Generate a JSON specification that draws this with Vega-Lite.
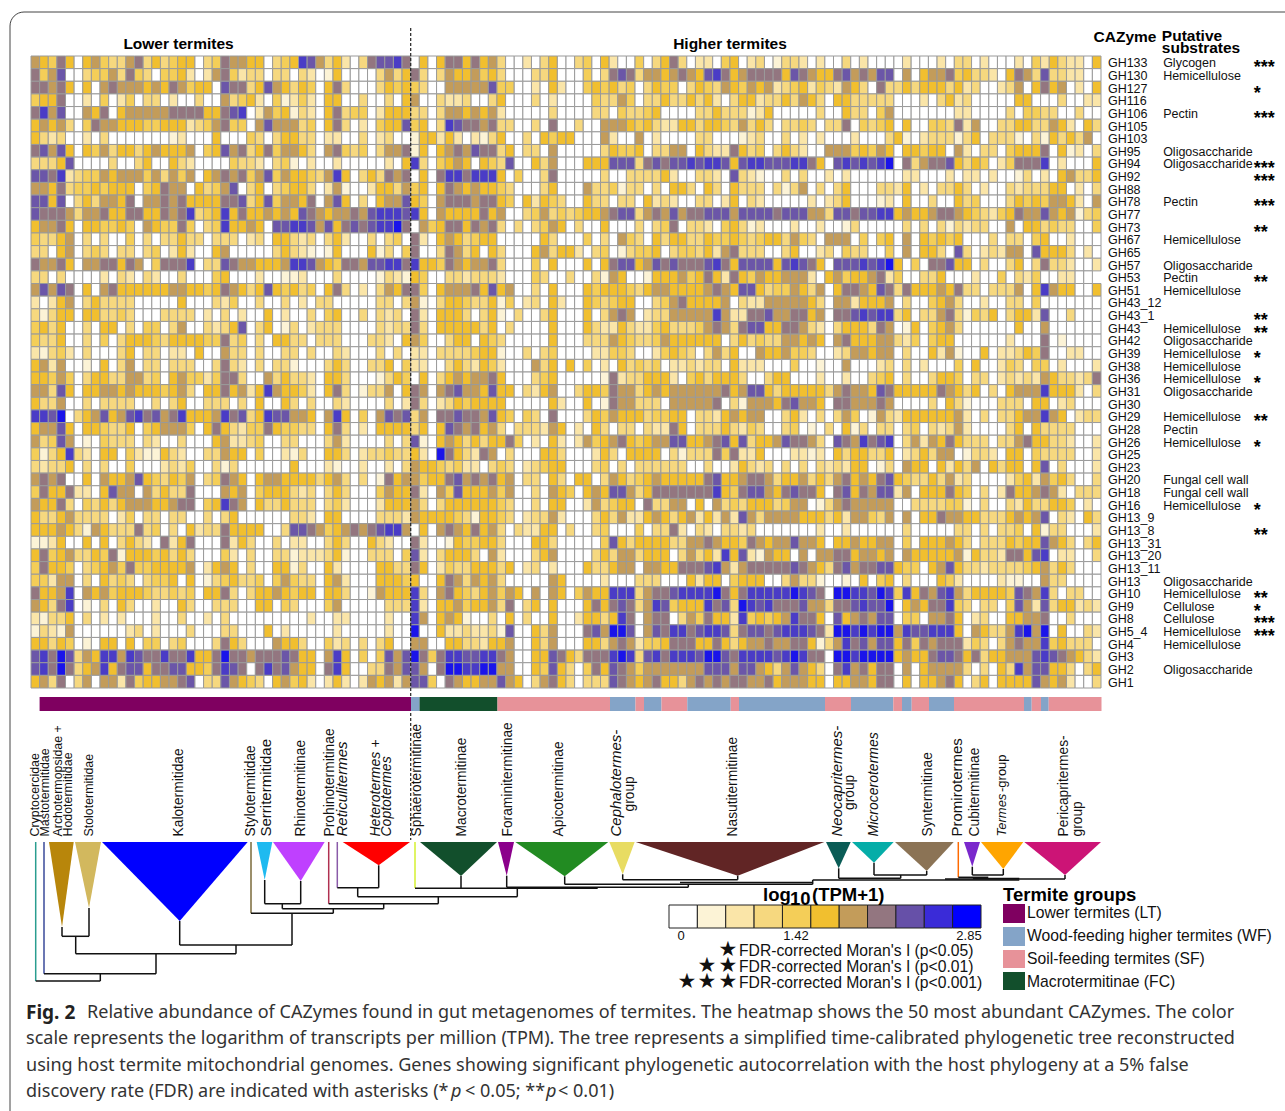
{"$schema":"https://vega.github.io/schema/vega-lite/v6.json","width":1285,"height":1111,"padding":0,"autosize":{"type":"none"},"background":"white","config":{"view":{"stroke":null},"text":{"font":"Liberation Sans"}},
"datasets":{"cazy":[
{"row":0,"gene":"GH133","sub":"Glycogen","sig":"***","v":[6,5,4,7,5,0,5,6,4,3,3,6,7,3,5,3,4,5,5,0,3,4,7,6,6,5,5,0,3,4,5,9,8,6,3,5,2,0,3,7,8,8,9,7,0,5,0,5,7,7,5,7,5,6,3,0,0,2,0,3,5,0,0,3,4,0,5,2,0,0,4,0,3,5,7,3,0,2,2,0,4,5,0,2,3,0,1,3,3,2,0,2,0,0,3,0,2,0,0,0,0,2,0,0,0,2,0,3,3,0,2,0,0,0,2,0,4,2,5,3,2,2,0,5]},
{"row":1,"gene":"GH130","sub":"Hemicellulose","sig":"","v":[7,4,6,8,0,0,3,4,4,6,3,7,4,3,0,4,4,5,2,0,2,6,7,4,2,3,3,0,3,3,0,3,2,0,1,5,0,0,0,0,3,6,3,5,7,3,0,3,6,5,5,6,4,5,3,0,0,0,3,3,5,0,0,0,4,0,3,7,8,7,3,6,6,5,6,7,6,5,8,9,7,5,6,7,7,7,7,5,8,7,6,5,5,7,8,6,7,6,8,8,0,6,0,5,6,6,7,4,5,3,3,2,0,5,7,6,3,8,3,3,2,2,0,0]},
{"row":2,"gene":"GH127","sub":"","sig":"*","v":[7,7,6,7,5,0,5,0,6,7,6,6,6,5,6,5,7,6,4,5,5,0,8,7,7,3,5,8,6,5,3,5,4,0,5,7,3,0,0,0,3,5,4,5,4,3,0,0,6,6,6,6,6,8,4,4,0,0,2,0,5,2,0,0,4,5,4,5,3,4,0,3,5,4,4,0,3,5,4,3,6,5,4,6,5,6,2,3,4,5,2,4,3,2,6,5,3,0,7,3,3,5,3,5,5,5,3,5,2,3,0,0,2,3,6,0,5,7,5,6,0,2,0,5]},
{"row":3,"gene":"GH116","sub":"","sig":"","v":[4,5,5,7,0,0,2,0,4,0,2,4,0,3,3,0,2,0,0,3,0,0,6,3,4,5,2,0,4,1,2,4,2,0,5,5,0,0,3,0,0,3,0,5,6,0,0,3,2,2,3,0,0,3,5,0,0,0,3,0,2,0,0,0,0,4,3,3,6,4,0,3,3,5,3,3,5,3,5,2,0,3,5,5,2,3,3,5,3,6,5,3,0,5,5,3,3,3,3,3,0,0,0,2,0,3,5,2,3,0,0,0,0,0,5,5,0,0,0,3,0,0,2,2]},
{"row":4,"gene":"GH106","sub":"Pectin","sig":"***","v":[7,9,6,8,0,0,6,5,7,0,5,6,6,6,6,6,7,7,7,7,5,5,7,8,9,0,2,6,4,5,1,3,2,0,5,7,3,4,4,0,2,5,5,5,3,3,0,3,6,6,5,6,5,6,2,0,0,0,0,0,3,0,0,0,0,3,3,0,4,3,3,4,5,0,0,0,0,3,3,5,3,3,3,1,2,5,0,0,0,0,0,3,0,0,5,3,3,0,4,6,0,0,0,0,0,0,0,2,2,0,0,0,0,3,0,4,4,3,3,0,0,3,0,0]},
{"row":5,"gene":"GH105","sub":"","sig":"","v":[5,6,5,6,3,0,4,7,6,6,5,5,5,4,4,5,5,5,2,3,4,6,7,4,4,0,6,8,6,6,6,3,4,0,5,7,3,0,2,0,4,5,5,8,4,5,0,3,9,8,7,7,6,7,3,3,0,0,3,0,7,0,0,3,0,0,6,6,6,5,4,5,3,2,2,5,5,3,5,5,4,3,6,3,5,3,0,3,3,4,3,0,3,3,7,0,4,3,4,5,0,5,0,0,4,4,3,7,2,6,0,0,3,3,5,5,3,3,6,5,2,0,5,3]},
{"row":6,"gene":"GH103","sub":"","sig":"","v":[5,3,2,3,0,0,2,0,3,0,0,0,0,0,0,0,1,2,0,0,0,5,0,0,0,4,3,0,3,5,5,3,3,0,2,2,0,0,3,0,2,3,0,0,1,5,5,2,5,2,0,2,1,3,5,0,0,3,0,5,4,5,5,0,0,0,6,2,0,0,6,0,2,0,0,0,0,3,3,0,0,0,1,2,3,0,0,3,0,2,0,2,0,0,0,2,0,0,0,3,5,1,0,2,3,3,3,1,3,5,0,3,3,3,1,0,3,1,5,3,5,3,6,0]},
{"row":7,"gene":"GH95","sub":"Oligosaccharide","sig":"","v":[7,8,6,8,5,0,5,4,6,3,5,5,3,5,6,5,5,5,6,0,4,5,8,6,7,3,5,7,4,6,6,5,3,0,6,7,4,3,4,0,3,6,6,7,1,5,0,5,6,7,6,8,7,7,3,5,0,3,3,0,6,0,0,0,0,0,3,5,4,4,5,0,3,3,6,6,0,5,3,2,2,7,5,3,4,0,3,5,3,2,0,0,6,6,6,4,5,4,6,5,0,5,5,4,5,5,0,6,2,0,3,3,0,4,5,5,5,7,0,5,1,2,0,3]},
{"row":8,"gene":"GH94","sub":"Oligosaccharide","sig":"***","v":[3,3,3,5,8,0,0,0,0,3,0,0,3,5,0,0,5,3,2,0,0,0,0,4,3,3,2,0,3,4,1,0,2,0,0,2,0,0,0,0,0,2,0,5,9,3,0,4,5,6,5,0,5,4,3,8,0,0,5,3,6,0,0,0,5,5,5,8,8,8,3,7,8,7,8,8,9,8,9,9,8,5,8,9,9,8,8,8,9,9,7,5,0,8,9,8,9,8,9,10,0,7,3,6,7,7,8,5,3,5,4,0,2,4,7,7,7,9,0,2,0,0,0,5]},
{"row":9,"gene":"GH92","sub":"","sig":"***","v":[8,8,7,9,2,3,4,4,6,5,6,6,6,4,6,3,6,4,6,0,5,6,7,6,7,4,6,8,4,6,5,5,4,3,6,9,5,0,3,5,3,7,6,7,0,5,0,7,9,9,7,9,9,9,5,0,4,0,0,3,7,0,0,0,0,0,3,0,0,3,3,3,3,5,2,0,0,3,3,2,0,8,3,2,1,0,0,3,0,3,0,0,2,0,2,0,0,0,0,0,0,2,2,0,0,0,2,0,2,2,0,2,0,0,1,3,0,2,0,5,6,3,3,5]},
{"row":10,"gene":"GH88","sub":"","sig":"","v":[6,6,5,7,3,4,4,5,4,5,5,5,0,4,5,7,6,6,0,5,3,4,6,8,0,3,5,0,3,4,5,5,3,0,2,6,1,0,0,2,5,5,3,6,4,5,0,5,7,6,5,6,5,5,4,3,0,0,0,3,5,0,0,0,6,3,3,4,1,3,3,0,3,0,5,5,3,0,5,3,0,5,3,3,3,0,3,1,3,6,0,3,0,3,5,0,0,0,3,3,2,5,0,2,0,3,3,5,3,0,2,0,0,3,2,3,3,3,5,5,0,2,0,3]},
{"row":11,"gene":"GH78","sub":"Pectin","sig":"***","v":[8,8,5,8,0,3,5,3,6,6,5,7,0,6,6,7,6,7,5,5,5,5,7,7,8,3,5,8,4,6,6,5,7,0,6,8,5,0,3,0,5,6,6,8,5,4,0,6,7,7,7,6,7,7,5,4,0,5,2,5,4,3,0,0,5,3,3,0,3,3,0,5,2,3,2,0,0,3,3,0,2,5,0,3,2,0,0,0,0,0,2,0,2,3,5,0,0,0,1,2,0,5,0,0,3,0,0,5,3,4,0,0,0,3,5,4,5,4,6,6,5,2,0,6]},
{"row":12,"gene":"GH77","sub":"","sig":"","v":[8,7,7,7,6,3,6,6,7,5,5,7,7,5,5,7,6,7,9,3,4,5,9,5,7,5,5,6,5,6,5,8,7,6,5,6,6,7,6,8,9,9,9,8,9,5,0,6,5,5,5,5,7,5,6,0,0,3,4,6,3,4,3,4,5,5,6,7,8,8,3,6,7,6,8,6,7,7,8,8,8,6,8,8,8,8,7,8,8,8,6,6,3,8,8,7,8,8,9,9,5,6,5,5,6,7,7,6,5,4,3,2,4,5,7,6,6,8,6,5,6,1,3,4]},
{"row":13,"gene":"GH73","sub":"","sig":"**","v":[5,6,6,7,5,0,5,5,4,4,5,4,0,6,5,4,4,7,4,0,3,4,9,5,5,6,5,0,8,8,9,9,8,6,8,5,7,8,7,8,9,9,10,7,0,6,4,5,7,7,5,7,6,7,3,0,3,0,3,4,6,5,0,3,0,0,5,0,0,0,3,0,3,4,7,0,3,3,2,0,4,5,3,1,2,0,0,0,2,0,0,2,0,0,1,3,0,0,0,0,0,3,0,3,0,3,1,3,2,3,3,0,0,6,0,5,5,3,4,3,3,0,0,4]},
{"row":14,"gene":"GH67","sub":"Hemicellulose","sig":"","v":[4,3,3,5,6,0,3,0,3,0,0,4,0,3,0,3,3,5,3,3,0,3,3,3,0,2,3,0,5,5,3,2,3,0,3,5,2,0,0,3,0,3,4,0,7,2,0,5,6,5,3,4,5,5,0,0,0,0,0,5,3,0,0,0,4,0,3,0,6,4,3,0,5,3,5,5,3,3,5,4,4,5,4,3,4,5,5,3,6,4,3,0,6,6,6,0,4,0,4,5,0,6,0,5,4,5,4,5,0,0,0,3,0,3,3,0,4,5,0,0,2,0,0,0]},
{"row":15,"gene":"GH65","sub":"","sig":"","v":[3,3,0,5,6,0,3,4,3,0,3,3,0,3,4,0,2,5,2,0,0,5,6,0,0,0,0,0,3,5,3,2,1,0,1,5,0,0,0,5,1,3,0,4,7,0,0,3,7,6,3,5,0,5,3,0,0,0,5,6,3,5,5,2,0,3,4,0,1,3,4,4,5,0,3,4,4,3,5,2,6,7,3,3,3,0,0,3,5,0,0,2,3,0,4,3,3,0,0,4,0,6,0,5,5,3,0,8,3,0,2,3,2,6,6,0,8,5,5,5,3,0,2,0]},
{"row":16,"gene":"GH57","sub":"Oligosaccharide","sig":"","v":[7,6,6,7,5,0,6,6,7,7,5,7,6,0,4,7,7,7,9,0,3,3,8,7,6,6,5,5,5,6,9,9,8,6,5,4,7,7,6,8,8,9,9,7,9,5,5,4,7,6,5,6,6,7,3,0,0,0,4,0,5,0,0,0,5,0,5,7,8,8,5,6,8,7,8,7,7,7,8,9,7,5,8,8,8,8,5,8,9,8,7,5,0,8,8,8,9,8,9,10,5,0,4,0,7,7,8,5,5,0,3,0,0,3,5,0,3,7,3,3,2,0,0,2]},
{"row":17,"gene":"GH53","sub":"Pectin","sig":"**","v":[3,3,0,3,0,0,0,0,2,0,3,2,0,3,2,0,0,3,0,0,0,4,5,0,0,0,2,0,0,1,1,2,0,0,0,3,0,0,0,0,1,3,2,1,5,4,0,0,3,3,2,3,3,3,2,0,0,0,4,3,0,0,3,0,0,3,1,6,5,0,0,1,5,5,5,6,4,5,7,5,2,7,5,4,6,5,5,6,6,6,2,0,5,6,4,5,5,6,7,2,4,0,0,3,3,5,0,0,0,2,0,0,4,0,3,2,4,0,0,2,2,0,0]},
{"row":18,"gene":"GH51","sub":"Hemicellulose","sig":"","v":[6,8,6,8,7,0,5,0,6,7,5,5,5,5,5,5,6,6,5,5,4,5,7,6,5,3,5,8,5,4,5,3,4,0,5,7,3,0,2,0,3,6,5,7,7,4,0,5,6,6,6,7,5,8,5,6,0,0,3,0,5,0,0,0,5,4,5,5,5,4,3,5,6,6,5,5,5,5,6,7,6,5,8,8,5,3,4,4,6,5,3,6,0,5,7,7,6,5,8,7,3,7,5,5,5,6,5,7,3,3,0,3,3,3,6,0,5,9,6,5,5,0,0,5]},
{"row":19,"gene":"GH43_12","sub":"","sig":"","v":[2,0,2,5,6,0,3,5,3,3,3,3,0,0,0,0,0,5,0,0,0,3,2,4,0,0,3,0,0,3,0,2,0,3,3,0,0,0,0,0,3,3,0,3,6,1,0,3,5,5,4,3,3,5,1,4,0,2,3,0,5,2,0,0,5,4,3,4,5,5,0,0,3,4,6,7,5,5,5,5,6,0,3,2,2,6,6,6,6,6,5,3,0,6,6,2,5,5,5,6,0,3,0,0,4,5,6,3,0,0,2,0,0,3,3,0,4,0,0,0,0,0,0,0]},
{"row":20,"gene":"GH43_1","sub":"","sig":"**","v":[3,1,3,5,5,0,5,5,3,3,4,3,0,0,0,3,3,3,3,0,2,0,3,0,2,0,0,5,0,2,0,0,3,0,4,5,0,0,3,0,3,2,3,0,7,2,0,5,5,5,3,0,3,5,1,0,3,0,0,3,5,0,0,0,5,0,3,6,7,6,0,2,3,3,6,6,6,6,6,9,6,2,2,7,7,8,6,6,7,7,5,6,0,7,7,8,9,8,9,9,3,5,0,3,3,6,7,3,1,4,3,5,0,3,5,5,2,8,0,0,3,0,0,0]},
{"row":21,"gene":"GH43","sub":"Hemicellulose","sig":"**","v":[4,5,3,5,0,0,3,0,5,5,0,3,0,4,4,0,3,6,0,0,3,2,3,5,8,0,3,5,0,1,3,0,2,3,3,3,0,0,0,0,3,2,3,3,7,3,0,5,5,5,5,5,3,5,0,3,0,0,0,0,5,0,0,0,5,3,2,2,5,3,2,2,4,5,3,3,3,4,6,7,6,3,7,8,8,5,5,7,7,6,3,2,0,3,5,5,5,3,7,6,0,1,5,0,4,5,6,3,0,0,0,0,0,0,5,0,0,6,0,0,0,0,0,0]},
{"row":22,"gene":"GH42","sub":"Oligosaccharide","sig":"","v":[4,3,3,5,0,0,3,0,4,0,3,5,5,5,4,3,5,5,5,5,4,4,7,3,4,0,3,0,5,5,3,3,0,3,3,3,0,0,0,3,3,2,0,5,6,4,0,0,3,5,5,0,5,4,3,0,0,0,0,0,5,0,0,0,3,3,3,6,5,4,3,3,4,6,5,5,5,5,5,5,0,3,5,3,4,3,3,6,6,5,6,5,0,6,7,5,5,5,6,6,3,2,4,0,4,5,5,0,0,0,0,0,0,2,0,0,0,7,0,1,0,0,0,0]},
{"row":23,"gene":"GH39","sub":"Hemicellulose","sig":"*","v":[2,1,3,4,2,0,3,0,0,0,3,5,0,3,3,0,2,2,0,5,0,0,6,3,3,0,3,0,0,3,3,0,3,0,0,3,2,0,0,0,3,0,3,0,2,2,0,3,3,3,3,4,5,5,1,0,0,3,0,3,4,0,0,0,0,2,2,4,4,3,0,0,2,4,5,4,3,0,3,6,3,5,0,0,6,5,5,6,4,4,3,0,0,2,3,6,6,5,6,6,0,3,0,0,5,2,6,1,0,0,5,0,2,2,3,5,4,7,0,0,2,2,0,0]},
{"row":24,"gene":"GH38","sub":"Hemicellulose","sig":"","v":[5,6,2,6,0,0,1,0,5,0,3,6,0,3,3,0,3,3,3,0,0,3,7,3,2,0,3,0,3,3,1,0,0,0,3,5,3,0,0,3,3,5,0,4,2,2,0,0,3,5,3,2,5,4,2,0,0,0,6,3,5,0,5,0,4,0,2,0,5,3,4,3,4,0,2,2,3,2,3,3,0,5,2,2,2,0,0,0,4,0,0,1,0,0,6,0,0,0,2,3,0,3,0,2,0,0,0,4,0,5,0,0,2,4,3,0,4,4,0,2,0,0,0,2]},
{"row":25,"gene":"GH36","sub":"Hemicellulose","sig":"*","v":[5,5,4,6,4,0,3,5,5,3,3,6,6,3,4,0,5,6,4,4,2,4,7,7,3,0,0,6,3,5,3,3,2,0,5,5,3,0,0,0,1,3,5,4,0,5,0,3,5,6,5,6,6,7,5,0,0,0,3,4,5,0,0,0,0,0,1,7,2,3,3,5,5,5,2,0,4,5,3,5,5,5,3,0,0,3,5,5,0,0,0,2,0,0,2,0,0,3,4,5,0,3,0,0,3,5,5,4,0,3,3,0,2,3,2,3,2,6,5,3,3,2,3,7]},
{"row":26,"gene":"GH31","sub":"Oligosaccharide","sig":"","v":[6,6,3,8,5,0,5,5,6,6,5,6,5,5,5,4,5,6,3,0,5,5,7,5,6,2,5,9,6,5,5,4,2,0,5,7,3,0,1,3,3,6,0,5,7,6,0,6,7,8,6,6,5,8,5,5,0,3,2,5,6,0,0,3,5,5,4,7,6,6,3,5,6,5,6,6,6,6,6,6,7,5,6,8,8,5,3,5,5,5,5,5,3,6,7,6,6,5,8,7,5,5,5,5,5,7,6,5,3,5,0,3,0,5,6,6,6,9,5,5,5,2,0,3]},
{"row":27,"gene":"GH30","sub":"","sig":"","v":[5,3,3,6,0,0,3,0,3,3,3,3,0,0,3,0,3,5,0,0,3,3,3,0,3,0,5,0,0,5,3,0,3,0,0,3,2,0,0,0,0,3,0,2,7,3,0,2,3,5,4,5,5,5,5,0,0,0,0,0,5,2,0,0,5,0,1,7,6,6,3,3,3,0,6,6,6,6,6,7,0,3,1,6,6,6,5,7,8,6,6,5,0,7,7,6,6,6,7,6,0,0,0,0,3,0,5,3,1,0,0,0,3,3,3,0,5,5,0,2,3,0,0,0]},
{"row":28,"gene":"GH29","sub":"Hemicellulose","sig":"**","v":[9,9,8,10,0,3,5,6,8,5,6,8,9,7,8,6,7,9,5,5,5,6,9,7,8,3,5,9,8,8,6,6,5,0,6,9,5,0,4,0,6,8,7,8,3,6,0,7,7,8,7,7,6,8,5,4,0,4,3,0,7,0,0,0,3,5,4,6,5,5,5,3,4,4,5,5,0,3,3,2,5,6,5,6,6,0,0,3,5,2,0,3,0,3,6,4,0,1,6,3,2,5,5,5,5,5,5,6,2,0,3,0,3,3,5,6,6,9,6,5,0,2,3,3]},
{"row":29,"gene":"GH28","sub":"Pectin","sig":"","v":[5,6,6,8,5,0,5,5,4,3,3,5,0,4,5,6,6,6,4,0,5,7,5,3,2,4,4,7,5,4,4,3,3,0,5,7,3,0,2,0,5,5,5,5,3,5,0,5,8,7,6,7,5,6,3,0,3,3,3,2,6,5,0,2,0,5,3,0,3,3,0,3,2,2,7,5,0,3,3,3,5,3,2,4,3,0,0,3,4,0,1,0,3,0,5,1,3,0,3,3,0,3,4,0,3,2,3,6,2,0,0,0,0,3,5,0,5,3,3,3,3,0,0,0]},
{"row":30,"gene":"GH26","sub":"Hemicellulose","sig":"*","v":[6,3,4,8,6,0,1,0,4,3,3,3,0,3,2,0,0,3,0,0,0,5,6,2,2,3,4,0,0,3,3,0,0,0,3,6,2,0,0,0,0,3,0,3,8,1,0,5,6,5,3,5,3,5,5,7,4,0,2,0,5,2,0,2,6,4,5,6,7,5,4,5,6,6,8,8,5,5,6,7,8,5,8,3,5,5,6,8,7,7,6,3,0,8,7,6,9,7,8,9,0,3,6,2,6,5,7,5,3,3,3,0,3,3,6,7,5,5,3,3,2,0,0,2]},
{"row":31,"gene":"GH25","sub":"","sig":"","v":[4,1,3,5,9,3,2,0,5,5,0,4,2,1,1,5,3,2,0,0,3,3,6,5,5,0,4,0,0,2,1,3,0,0,5,5,3,0,2,3,3,4,3,3,5,2,0,10,7,5,3,2,7,6,0,3,0,0,0,5,5,3,0,0,0,2,5,3,0,5,5,5,5,0,3,1,3,3,3,7,4,7,2,2,5,0,0,0,2,2,1,2,0,5,3,5,5,3,3,5,0,2,3,5,3,6,6,0,1,3,3,2,0,5,5,0,4,3,3,3,3,0,0,2]},
{"row":32,"gene":"GH23","sub":"","sig":"","v":[3,2,3,3,5,0,3,0,3,0,0,4,0,0,0,2,3,2,4,0,0,3,1,3,0,0,0,0,0,0,5,0,0,0,2,1,0,0,2,0,0,2,0,3,6,5,5,4,3,4,2,2,0,3,4,3,0,2,3,4,5,5,0,0,0,3,4,0,3,0,3,3,3,3,3,3,0,0,3,0,0,2,5,3,2,3,0,3,0,3,0,3,2,3,2,5,5,0,1,3,0,6,5,5,0,5,2,5,3,6,0,5,3,5,5,0,5,8,0,3,0,0,0,2]},
{"row":33,"gene":"GH20","sub":"Fungal cell wall","sig":"","v":[6,7,6,7,0,0,5,0,6,5,5,6,8,5,4,3,5,4,6,0,3,4,7,6,5,0,5,6,6,5,5,5,5,3,5,6,3,0,3,0,1,7,5,6,6,4,5,5,7,8,6,7,6,7,5,6,0,3,3,0,5,3,0,5,5,0,3,6,5,3,4,5,6,5,5,5,5,5,7,8,5,5,6,7,7,6,3,5,5,6,3,5,3,6,7,5,6,5,7,8,5,4,3,3,5,3,6,2,3,0,0,0,0,2,4,5,2,6,4,5,3,0,0,3]},
{"row":34,"gene":"GH18","sub":"Fungal cell wall","sig":"","v":[4,7,5,5,7,2,2,0,5,8,6,6,0,6,3,5,3,3,7,0,0,0,6,5,6,0,4,5,5,5,3,2,3,0,3,5,3,0,0,0,4,6,5,5,7,2,0,6,4,8,5,5,5,6,4,6,0,0,3,0,6,5,4,0,5,6,5,8,8,6,3,5,7,7,7,7,7,7,7,9,5,4,7,8,8,6,5,7,8,7,7,5,0,7,8,5,7,6,8,8,2,6,0,5,5,5,7,5,4,0,3,0,2,7,5,5,6,7,6,2,0,3,3,3]},
{"row":35,"gene":"GH16","sub":"Hemicellulose","sig":"*","v":[6,5,5,7,3,0,4,3,5,3,5,6,6,6,5,5,6,7,7,0,4,5,9,7,6,0,5,3,3,5,3,3,3,0,3,4,2,0,0,0,2,5,5,5,6,3,0,3,5,5,5,5,5,5,4,3,0,0,3,0,5,5,0,0,2,6,3,4,5,5,0,7,3,3,6,6,0,5,0,6,3,4,3,5,5,5,3,4,6,6,0,1,3,6,7,6,6,6,6,6,0,0,3,3,3,3,4,4,1,0,3,0,0,3,2,5,3,3,5,5,4,0,2,0]},
{"row":36,"gene":"GH13_9","sub":"","sig":"","v":[5,3,3,5,6,3,3,3,3,0,2,4,0,3,3,0,3,3,0,0,3,0,3,5,0,0,0,0,0,0,3,3,2,0,5,5,0,0,0,0,3,3,3,2,6,5,5,5,5,4,3,1,5,5,4,3,0,2,3,3,6,2,0,0,0,3,5,3,6,2,2,5,6,5,3,5,6,2,5,2,6,2,8,6,3,6,6,6,6,5,5,5,3,5,2,6,6,4,3,6,0,6,0,5,5,7,6,6,5,5,3,3,3,5,6,5,6,8,0,3,2,0,5,3]},
{"row":37,"gene":"GH13_8","sub":"","sig":"**","v":[5,5,5,6,5,3,1,6,5,3,3,3,7,3,4,0,3,0,5,2,3,3,7,5,5,5,5,0,0,3,8,8,7,6,4,5,6,7,6,7,8,9,9,6,0,5,0,6,7,6,5,7,5,6,3,0,3,2,2,5,5,0,3,0,0,3,4,0,0,0,4,0,3,3,7,2,0,3,2,0,3,3,2,3,0,0,0,0,0,0,0,2,0,0,2,0,0,0,0,0,0,3,0,0,0,0,0,3,3,0,3,0,3,3,4,0,5,1,3,3,0,0,0,2]},
{"row":38,"gene":"GH13_31","sub":"","sig":"","v":[1,1,2,5,0,0,5,0,5,0,3,5,3,2,0,7,2,5,7,0,0,0,7,2,5,3,0,0,3,0,2,2,0,0,3,5,3,0,0,5,3,2,0,0,7,2,0,0,1,5,4,4,5,5,3,0,0,0,5,5,3,0,0,0,0,0,4,8,5,3,5,5,5,5,3,3,6,6,7,6,5,5,4,7,6,5,6,6,8,6,6,5,0,5,5,6,5,5,6,6,0,4,0,5,5,5,6,5,3,0,3,3,3,5,4,5,5,8,6,5,3,0,3,5]},
{"row":39,"gene":"GH13_20","sub":"","sig":"","v":[5,7,4,5,6,3,3,5,4,7,1,5,5,5,4,5,3,5,3,0,0,0,4,2,0,3,0,0,3,3,1,2,2,2,3,5,1,0,0,3,3,3,0,4,8,2,0,3,5,5,5,3,0,6,2,0,0,0,3,5,6,0,0,0,0,3,5,3,6,6,3,5,5,5,0,3,6,3,5,2,9,5,8,2,1,6,5,5,0,6,0,6,6,7,7,5,6,6,5,6,0,6,5,5,5,5,5,6,1,5,3,3,2,7,7,5,8,9,0,2,2,0,0,3]},
{"row":40,"gene":"GH13_11","sub":"","sig":"","v":[4,7,5,5,4,0,3,4,5,6,4,7,4,4,5,5,5,5,6,0,2,5,6,5,0,3,0,0,5,5,1,3,0,0,5,2,0,0,0,0,5,5,3,3,7,5,0,2,4,3,3,5,5,5,3,5,0,2,3,0,2,0,0,0,5,3,3,5,6,6,0,6,6,5,5,7,7,7,8,9,6,2,6,7,7,7,7,7,8,7,6,5,3,7,8,6,7,7,8,8,5,4,4,0,5,6,8,5,3,3,2,3,3,3,3,4,5,6,3,5,3,0,0,0]},
{"row":41,"gene":"GH13","sub":"Oligosaccharide","sig":"","v":[4,4,2,6,6,0,3,0,5,3,4,3,0,3,4,4,5,0,5,0,1,3,4,5,3,3,4,0,4,6,4,3,3,0,5,6,2,0,0,0,5,5,5,4,5,0,0,5,7,6,3,6,5,6,3,0,0,0,0,0,6,5,0,0,0,0,2,0,0,0,3,3,3,0,0,0,5,2,5,5,0,4,5,5,5,0,0,3,6,3,3,1,0,0,1,0,5,0,4,5,0,3,0,0,0,5,4,2,0,0,0,0,2,1,1,0,0,6,3,3,0,0,0,0]},
{"row":42,"gene":"GH10","sub":"Hemicellulose","sig":"**","v":[7,5,5,6,9,0,6,5,6,4,5,5,5,4,3,3,4,3,4,0,5,5,7,3,0,3,5,5,6,5,4,5,5,0,5,5,3,0,0,1,6,5,5,5,9,3,0,6,7,5,4,3,5,6,4,6,5,0,6,0,6,5,0,4,6,5,5,9,9,9,3,6,7,7,8,9,9,9,9,10,7,5,7,9,9,9,9,9,10,9,8,7,0,10,10,9,9,8,10,9,4,9,5,7,6,8,9,6,3,5,5,5,5,4,8,7,6,9,3,0,3,3,0,0]},
{"row":43,"gene":"GH9","sub":"Cellulose","sig":"*","v":[6,5,3,7,9,0,1,0,3,0,5,3,0,0,2,0,0,5,3,0,0,3,3,3,0,0,5,5,0,4,3,0,0,0,4,6,0,0,0,0,0,3,3,3,9,2,0,5,5,6,4,5,5,6,3,7,0,3,5,0,5,0,0,0,5,7,5,7,8,7,3,6,9,8,4,5,5,5,9,7,8,3,10,9,8,9,7,7,7,8,6,6,3,7,7,8,9,8,8,10,0,5,6,5,7,7,9,4,3,0,3,3,0,4,8,6,2,8,3,5,5,2,3,2]},
{"row":44,"gene":"GH8","sub":"Cellulose","sig":"***","v":[2,1,3,3,5,0,3,0,2,0,2,0,0,0,2,0,0,3,0,0,2,0,3,0,0,0,0,0,0,0,0,0,2,0,0,2,2,0,0,0,0,2,0,0,9,6,0,5,6,5,1,0,0,3,0,5,0,3,0,0,5,0,0,2,5,5,3,5,9,7,0,6,7,7,0,3,6,4,7,5,5,2,9,4,5,4,5,6,9,7,7,5,0,8,5,6,7,6,8,8,0,4,4,0,6,6,7,5,0,2,3,0,0,5,5,6,6,7,0,0,3,0,0,0]},
{"row":45,"gene":"GH5_4","sub":"Hemicellulose","sig":"***","v":[1,3,2,1,6,0,0,0,0,0,0,2,3,0,2,0,0,0,3,0,0,0,3,3,0,0,0,5,0,2,0,0,0,0,0,2,0,0,0,0,0,2,0,0,10,0,0,5,2,2,3,2,2,3,1,8,0,0,5,3,6,0,0,0,7,8,6,10,10,8,0,6,8,7,9,9,7,8,9,9,8,3,7,8,8,7,8,9,9,9,8,7,2,10,10,9,10,9,10,10,6,9,8,8,9,9,9,5,0,6,5,3,3,6,9,10,6,10,0,5,0,0,3,2]},
{"row":46,"gene":"GH4","sub":"Hemicellulose","sig":"","v":[5,5,3,5,4,0,1,0,5,5,0,5,0,4,4,0,3,4,0,0,0,3,7,5,3,0,0,0,6,5,5,3,0,0,4,2,3,0,3,0,3,5,0,0,6,6,0,0,5,5,3,3,2,5,5,6,0,0,5,3,6,0,0,0,5,5,3,6,7,6,2,4,4,5,7,7,7,5,5,7,5,3,5,6,6,7,6,6,7,7,5,1,3,6,9,7,8,6,8,8,5,7,4,7,6,7,7,7,2,4,3,0,3,6,7,6,6,9,4,5,3,3,3,0]},
{"row":47,"gene":"GH3","sub":"","sig":"","v":[8,9,7,10,8,3,6,5,9,9,6,9,8,7,7,9,7,7,9,5,5,7,10,7,7,6,7,7,7,8,7,5,5,0,6,9,5,0,4,0,4,8,6,8,10,7,4,7,9,9,8,8,9,9,7,6,0,0,5,5,8,7,5,3,7,7,7,9,10,9,3,8,9,7,9,9,9,8,10,10,8,7,9,9,9,9,8,9,10,9,7,7,0,10,10,9,10,10,10,10,5,6,5,5,7,8,8,7,5,7,3,5,5,6,6,6,8,9,8,7,6,5,3,2]},
{"row":48,"gene":"GH2","sub":"Oligosaccharide","sig":"","v":[8,9,7,10,7,3,5,6,9,5,7,8,8,5,7,7,8,8,5,5,4,7,9,8,7,0,7,9,7,8,6,5,5,0,7,9,5,0,0,3,3,7,6,8,8,6,0,7,10,10,9,9,10,10,6,6,0,0,5,4,8,5,3,0,4,7,5,8,7,6,4,6,6,6,6,6,6,6,8,8,8,6,8,8,6,5,3,6,8,6,5,3,0,7,9,6,7,5,7,7,0,6,0,5,6,6,6,6,3,0,3,0,5,3,9,6,8,8,5,5,3,0,3,5]},
{"row":49,"gene":"GH1","sub":"","sig":"","v":[5,6,3,7,0,3,6,0,6,6,2,7,4,5,5,6,6,7,8,0,3,3,8,6,5,4,3,0,5,6,4,5,2,0,2,5,2,0,2,6,5,6,2,6,8,8,4,0,7,6,5,5,6,6,8,6,5,0,3,6,7,5,3,0,3,3,3,8,7,6,5,6,7,5,5,3,6,7,6,7,6,7,7,6,6,7,5,6,6,6,5,5,0,5,5,6,6,5,7,7,0,5,0,5,5,6,7,5,0,3,5,0,5,5,5,5,8,6,5,6,2,0,0,3]}
]},
"resolve":{"scale":{"x":"independent","y":"independent","color":"independent"}},
"layer":[
{"data":{"name":"cazy"},"transform":[{"flatten":["v"]},{"window":[{"op":"row_number","as":"n"}],"groupby":["row"]},{"calculate":"datum.n-1","as":"col"},{"calculate":"datum.row+1","as":"row2"}],
"mark":{"type":"rect","stroke":"#9a9a9a","strokeWidth":1},
"encoding":{"x":{"field":"col","type":"quantitative","axis":null,"scale":{"domain":[0,124],"range":[31,1101],"nice":false,"zero":false}},"x2":{"field":"n"},"y":{"field":"row","type":"quantitative","axis":null,"scale":{"domain":[0,50],"range":[56,688],"nice":false,"zero":false}},"y2":{"field":"row2"},"color":{"field":"v","type":"ordinal","legend":null,"scale":{"domain":[0,1,2,3,4,5,6,7,8,9,10],"range":["#ffffff","#fcf3d6","#fae5a8","#f6d87f","#f4ce58","#f1bf2f","#c39c5a","#937680","#6b56a8","#4a3cc6","#1a14ea"]}}}},
{"data":{"name":"cazy"},"transform":[{"calculate":"datum.row+0.5","as":"ym"}],"mark":{"type":"text","align":"left","baseline":"middle","fontSize":12.5,"dy":1,"color":"#111"},
"encoding":{"x":{"datum":124.8,"type":"quantitative","axis":null,"scale":{"domain":[0,124],"range":[31,1101],"nice":false,"zero":false}},"y":{"field":"ym","type":"quantitative","axis":null,"scale":{"domain":[0,50],"range":[56,688],"nice":false,"zero":false}},"text":{"field":"gene"}}},
{"data":{"name":"cazy"},"transform":[{"calculate":"datum.row+0.5","as":"ym"}],"mark":{"type":"text","align":"left","baseline":"middle","fontSize":12.5,"dy":1,"color":"#111"},
"encoding":{"x":{"datum":131.2,"type":"quantitative","axis":null,"scale":{"domain":[0,124],"range":[31,1101],"nice":false,"zero":false}},"y":{"field":"ym","type":"quantitative","axis":null,"scale":{"domain":[0,50],"range":[56,688],"nice":false,"zero":false}},"text":{"field":"sub"}}},
{"data":{"name":"cazy"},"transform":[{"calculate":"datum.row+0.5","as":"ym"}],"mark":{"type":"text","align":"left","baseline":"middle","fontSize":18,"fontWeight":"bold","dy":6,"color":"#000"},
"encoding":{"x":{"datum":141.7,"type":"quantitative","axis":null,"scale":{"domain":[0,124],"range":[31,1101],"nice":false,"zero":false}},"y":{"field":"ym","type":"quantitative","axis":null,"scale":{"domain":[0,50],"range":[56,688],"nice":false,"zero":false}},"text":{"field":"sig"}}},
{"data":{"values":[{"level":0},{"level":1},{"level":2},{"level":3},{"level":4},{"level":5},{"level":6},{"level":7},{"level":8},{"level":9},{"level":10}]},"transform":[{"calculate":"datum.level+1","as":"next"}],"mark":{"type":"rect","stroke":"#222","strokeWidth":1},
"encoding":{"x":{"field":"level","type":"quantitative","axis":null,"scale":{"domain":[0,11],"range":[669,981],"nice":false,"zero":false}},"x2":{"field":"next"},"y":{"datum":0,"type":"quantitative","axis":null,"scale":{"domain":[0,1],"range":[905,928],"nice":false,"zero":false}},"y2":{"datum":1},"color":{"field":"level","type":"ordinal","legend":null,"scale":{"domain":[0,1,2,3,4,5,6,7,8,9,10],"range":["#ffffff","#fcf3d6","#fae5a8","#f6d87f","#f4ce58","#f1bf2f","#c39c5a","#937680","#6650a8","#3a2bd8","#0000ff"]}}}},
{"encoding":{"x":{"field":"x","type":"quantitative","axis":null,"scale":{"domain":[0,1285],"range":[0,1285],"nice":false,"zero":false}},"y":{"field":"y","type":"quantitative","axis":null,"scale":{"domain":[0,1111],"range":[0,1111],"nice":false,"zero":false}}},
"resolve":{"scale":{"color":"independent"}},
"layer":[
{"data":{"values":[{"x":10,"x2":1340,"y":12,"y2":1180}]},"mark":{"type":"rect","fill":null,"fillOpacity":0,"stroke":"#444","strokeWidth":1,"cornerRadius":14},"encoding":{"x2":{"field":"x2"},"y2":{"field":"y2"}}},
{"data":{"values":[{"x":410.7,"y":28,"y2":840}]},"mark":{"type":"rule","color":"#222","strokeWidth":1.2,"strokeDash":[3,2]},"encoding":{"y2":{"field":"y2"}}},
{"data":{"values":[{"x":39.6,"x2":411,"y":697,"y2":711,"g":"LT"},{"x":411,"x2":419.5,"y":697,"y2":711,"g":"WF"},{"x":419.5,"x2":497.5,"y":697,"y2":711,"g":"FC"},{"x":497.5,"x2":610,"y":697,"y2":711,"g":"SF"},{"x":610,"x2":635.5,"y":697,"y2":711,"g":"WF"},{"x":635.5,"x2":644,"y":697,"y2":711,"g":"SF"},{"x":644,"x2":661.5,"y":697,"y2":711,"g":"WF"},{"x":661.5,"x2":687.3,"y":697,"y2":711,"g":"SF"},{"x":687.3,"x2":730.7,"y":697,"y2":711,"g":"WF"},{"x":730.7,"x2":739,"y":697,"y2":711,"g":"SF"},{"x":739,"x2":825,"y":697,"y2":711,"g":"WF"},{"x":825,"x2":851,"y":697,"y2":711,"g":"SF"},{"x":851,"x2":893.3,"y":697,"y2":711,"g":"WF"},{"x":893.3,"x2":902,"y":697,"y2":711,"g":"SF"},{"x":902,"x2":911.7,"y":697,"y2":711,"g":"WF"},{"x":911.7,"x2":929,"y":697,"y2":711,"g":"SF"},{"x":929,"x2":954,"y":697,"y2":711,"g":"WF"},{"x":954,"x2":1024,"y":697,"y2":711,"g":"SF"},{"x":1024,"x2":1031.7,"y":697,"y2":711,"g":"WF"},{"x":1031.7,"x2":1041,"y":697,"y2":711,"g":"SF"},{"x":1041,"x2":1048.7,"y":697,"y2":711,"g":"WF"},{"x":1048.7,"x2":1101.5,"y":697,"y2":711,"g":"SF"},{"x":1003,"x2":1025,"y":904,"y2":923,"g":"LT"},{"x":1003,"x2":1025,"y":927,"y2":946,"g":"WF"},{"x":1003,"x2":1025,"y":950,"y2":968,"g":"SF"},{"x":1003,"x2":1025,"y":972,"y2":990,"g":"FC"}]},"mark":{"type":"rect"},"encoding":{"x2":{"field":"x2"},"y2":{"field":"y2"},"color":{"field":"g","type":"nominal","legend":null,"scale":{"domain":["LT","WF","SF","FC"],"range":["#7f0060","#84a4c8","#e79299","#124f2c"]}}}},
{"data":{"values":[{"n":"a","x":49,"y":842,"y2":842},{"n":"a","x":62,"y":842,"y2":927},{"n":"a","x":73.7,"y":842,"y2":842},{"n":"b","x":75,"y":842,"y2":842},{"n":"b","x":89,"y":842,"y2":908},{"n":"b","x":101,"y":842,"y2":842},{"n":"c","x":102,"y":842,"y2":842},{"n":"c","x":179.7,"y":842,"y2":921},{"n":"c","x":247.7,"y":842,"y2":842},{"n":"d","x":256.7,"y":842,"y2":842},{"n":"d","x":264.7,"y":842,"y2":880},{"n":"d","x":272.3,"y":842,"y2":842},{"n":"e","x":273,"y":842,"y2":842},{"n":"e","x":300.7,"y":842,"y2":881},{"n":"e","x":324.7,"y":842,"y2":842},{"n":"f","x":342.7,"y":842,"y2":842},{"n":"f","x":378.7,"y":842,"y2":865.3},{"n":"f","x":410,"y":842,"y2":842},{"n":"g","x":420,"y":842,"y2":842},{"n":"g","x":461,"y":842,"y2":876},{"n":"g","x":497,"y":842,"y2":842},{"n":"h","x":498,"y":842,"y2":842},{"n":"h","x":506.7,"y":842,"y2":875.7},{"n":"h","x":514,"y":842,"y2":842},{"n":"i","x":515.3,"y":842,"y2":842},{"n":"i","x":564.7,"y":842,"y2":876.3},{"n":"i","x":608.3,"y":842,"y2":842},{"n":"j","x":609.3,"y":842,"y2":842},{"n":"j","x":622.7,"y":842,"y2":874.3},{"n":"j","x":634.7,"y":842,"y2":842},{"n":"k","x":635.7,"y":842,"y2":842},{"n":"k","x":737.7,"y":842,"y2":875.7},{"n":"k","x":824.3,"y":842,"y2":842},{"n":"l","x":826,"y":842,"y2":842},{"n":"l","x":838.7,"y":842,"y2":868.3},{"n":"l","x":850.7,"y":842,"y2":842},{"n":"m","x":852,"y":842,"y2":842},{"n":"m","x":874,"y":842,"y2":862.7},{"n":"m","x":893.7,"y":842,"y2":842},{"n":"o","x":895,"y":842,"y2":842},{"n":"o","x":926.7,"y":842,"y2":871},{"n":"o","x":953.7,"y":842,"y2":842},{"n":"p","x":964,"y":842,"y2":842},{"n":"p","x":972.3,"y":842,"y2":866.7},{"n":"p","x":980,"y":842,"y2":842},{"n":"q","x":981,"y":842,"y2":842},{"n":"q","x":1003.3,"y":842,"y2":869},{"n":"q","x":1023.3,"y":842,"y2":842},{"n":"r","x":1024.3,"y":842,"y2":842},{"n":"r","x":1065,"y":842,"y2":875},{"n":"r","x":1101,"y":842,"y2":842}]},"mark":{"type":"area","interpolate":"linear"},"encoding":{"y2":{"field":"y2"},"detail":{"field":"n"},"color":{"field":"n","type":"nominal","legend":null,"scale":{"domain":["a","b","c","d","e","f","g","h","i","j","k","l","m","o","p","q","r"],"range":["#b8860b","#d2b85e","#0000ff","#1fbaf0","#bf40ff","#ff0000","#124f2c","#8b008b","#228b22","#e8dc62","#612525","#0a5c56","#05ada8","#8b7355","#7a28cc","#ffa500","#cc1476"]}}}},
{"data":{"values":[{"x":35.7,"y":842,"y2":981,"c":"t"},{"x":44,"y":842,"y2":973.7,"c":"n"},{"x":251,"y":842,"y2":913.3,"c":"o"},{"x":328.7,"y":842,"y2":903.7,"c":"r"},{"x":337.3,"y":842,"y2":887.7,"c":"p"},{"x":415,"y":842,"y2":888,"c":"y"},{"x":958.3,"y":842,"y2":877.3,"c":"f"}]},"mark":{"type":"rule","strokeWidth":1.5},"encoding":{"y2":{"field":"y2"},"color":{"field":"c","type":"nominal","legend":null,"scale":{"domain":["t","n","o","r","p","y","f"],"range":["#2a9d8f","#3a4a9a","#7a6a3a","#b03050","#8a5aa8","#d4f030","#ff6a00"]}}}},
{"data":{"values":[{"x":35.7,"x2":100.3,"y":981,"y2":981},{"x":100.3,"x2":100.3,"y":973.7,"y2":981},{"x":44,"x2":156,"y":973.7,"y2":973.7},{"x":156,"x2":156,"y":953.7,"y2":973.7},{"x":75.7,"x2":236,"y":953.7,"y2":953.7},{"x":75.7,"x2":75.7,"y":936.3,"y2":953.7},{"x":62,"x2":89,"y":936.3,"y2":936.3},{"x":62,"x2":62,"y":927,"y2":936.3},{"x":89,"x2":89,"y":908,"y2":936.3},{"x":236,"x2":236,"y":945,"y2":953.7},{"x":179.7,"x2":292,"y":945,"y2":945},{"x":179.7,"x2":179.7,"y":921,"y2":945},{"x":292,"x2":292,"y":913.3,"y2":945},{"x":251,"x2":333.3,"y":913.3,"y2":913.3},{"x":333.3,"x2":333.3,"y":908.7,"y2":913.3},{"x":282.3,"x2":383.7,"y":908.7,"y2":908.7},{"x":282.3,"x2":282.3,"y":903.7,"y2":908.7},{"x":264.7,"x2":300.7,"y":903.7,"y2":903.7},{"x":264.7,"x2":264.7,"y":880,"y2":903.7},{"x":300.7,"x2":300.7,"y":881,"y2":903.7},{"x":383.7,"x2":383.7,"y":903.7,"y2":908.7},{"x":328.7,"x2":438.3,"y":903.7,"y2":903.7},{"x":438.3,"x2":438.3,"y":896.7,"y2":903.7},{"x":357.7,"x2":517.3,"y":896.7,"y2":896.7},{"x":357.7,"x2":357.7,"y":887.7,"y2":896.7},{"x":337.3,"x2":378.7,"y":887.7,"y2":887.7},{"x":378.7,"x2":378.7,"y":865.3,"y2":887.7},{"x":517.3,"x2":517.3,"y":887.3,"y2":896.7},{"x":506.7,"x2":688.3,"y":887.3,"y2":887.3},{"x":415,"x2":597.7,"y":888.3,"y2":888.3},{"x":461,"x2":461,"y":876,"y2":888},{"x":506.7,"x2":506.7,"y":875.7,"y2":887.3},{"x":564.7,"x2":564.7,"y":876.3,"y2":884.3},{"x":564.7,"x2":812.7,"y":884.3,"y2":884.3},{"x":688.3,"x2":688.3,"y":884.3,"y2":887.3},{"x":622.7,"x2":622.7,"y":874.3,"y2":879.7},{"x":622.7,"x2":737.7,"y":879.7,"y2":879.7},{"x":737.7,"x2":737.7,"y":875.7,"y2":879.7},{"x":680,"x2":812.7,"y":882.5,"y2":882.5},{"x":838.7,"x2":838.7,"y":868.3,"y2":878.3},{"x":838.7,"x2":900.7,"y":878.3,"y2":878.3},{"x":874,"x2":874,"y":862.7,"y2":875},{"x":874,"x2":926.7,"y":875,"y2":875},{"x":926.7,"x2":926.7,"y":871,"y2":875},{"x":900.7,"x2":900.7,"y":875,"y2":878.3},{"x":812.7,"x2":1019.3,"y":880,"y2":880},{"x":812.7,"x2":812.7,"y":880,"y2":884.3},{"x":958.3,"x2":988.3,"y":877.3,"y2":877.3},{"x":972.3,"x2":972.3,"y":866.7,"y2":875},{"x":972.3,"x2":1003.3,"y":875,"y2":875},{"x":1003.3,"x2":1003.3,"y":869,"y2":875},{"x":973,"x2":1019.3,"y":878.5,"y2":878.5},{"x":1065,"x2":1065,"y":875,"y2":879},{"x":945,"x2":1065,"y":879,"y2":879}]},"mark":{"type":"rule","color":"#111","strokeWidth":1.5},"encoding":{"x2":{"field":"x2"},"y2":{"field":"y2"}}},
{"data":{"values":[{"x":35,"y":836.5,"t":"Cryptocercidae"},{"x":45,"y":836.5,"t":"Mastotermitidae"},{"x":58.3,"y":836.5,"t":"Archotermopsidae +"},{"x":67.7,"y":836.5,"t":"Hodotermitidae"},{"x":89,"y":836.5,"t":"Stolotermitidae"}]},"mark":{"type":"text","angle":270,"align":"left","baseline":"middle","fontSize":12.4,"color":"#111"},"encoding":{"text":{"field":"t"}}},
{"data":{"values":[{"x":179,"y":836.5,"t":"Kalotermitidae"},{"x":251,"y":836.5,"t":"Stylotermitidae"},{"x":300.7,"y":836.5,"t":"Rhinotermitinae"},{"x":330,"y":836.5,"t":"Prohinotermitinae"},{"x":417.3,"y":836.5,"t":"Sphaerotermitinae"},{"x":461.7,"y":836.5,"t":"Macrotermitinae"},{"x":508.3,"y":836.5,"t":"Foraminitermitinae"},{"x":559,"y":836.5,"t":"Apicotermitinae"},{"x":630,"y":811.5,"t":"group"},{"x":733.3,"y":836.5,"t":"Nasutitermitinae"},{"x":850,"y":810,"t":"group"},{"x":928.3,"y":836.5,"t":"Syntermitinae"},{"x":975,"y":836.5,"t":"Cubitermitinae"},{"x":1064.3,"y":836.5,"t":"Pericapritermes-"},{"x":1077.7,"y":836.5,"t":"group"}]},"mark":{"type":"text","angle":270,"align":"left","baseline":"middle","fontSize":13.8,"color":"#111"},"encoding":{"text":{"field":"t"}}},
{"data":{"values":[{"x":265.7,"y":836.5,"t":"Serritermitidae"},{"x":957.3,"y":836.5,"t":"Promirotermes"}]},"mark":{"type":"text","angle":270,"align":"left","baseline":"middle","fontSize":15,"color":"#111"},"encoding":{"text":{"field":"t"}}},
{"data":{"values":[{"x":1001.7,"y":792,"t":"-group"}]},"mark":{"type":"text","angle":270,"align":"left","baseline":"middle","fontSize":13,"color":"#111"},"encoding":{"text":{"field":"t"}}},
{"data":{"values":[{"x":1001.7,"y":836.5,"t":"Termes"}]},"mark":{"type":"text","angle":270,"align":"left","baseline":"middle","fontSize":13,"fontStyle":"italic","color":"#111"},"encoding":{"text":{"field":"t"}}},
{"data":{"values":[{"x":375.7,"y":836.5,"t":"Heterotermes +"},{"x":386.7,"y":836.5,"t":"Coptotermes"},{"x":874,"y":836.5,"t":"Microcerotermes"}]},"mark":{"type":"text","angle":270,"align":"left","baseline":"middle","fontSize":14,"fontStyle":"italic","color":"#111"},"encoding":{"text":{"field":"t"}}},
{"data":{"values":[{"x":341.7,"y":836.5,"t":"Reticulitermes"},{"x":616,"y":836.5,"t":"Cephalotermes-"},{"x":836.7,"y":836.5,"t":"Neocapritermes-"}]},"mark":{"type":"text","angle":270,"align":"left","baseline":"middle","fontSize":15,"fontStyle":"italic","color":"#111"},"encoding":{"text":{"field":"t"}}},
{"data":{"values":[{"x":178.5,"y":44,"t":"Lower termites"},{"x":730,"y":44,"t":"Higher termites"},{"x":1125,"y":37,"t":"CAZyme"},{"x":1192,"y":36,"t":"Putative"},{"x":1201,"y":48,"t":"substrates"}]},"mark":{"type":"text","align":"center","baseline":"middle","fontSize":15.5,"fontWeight":"bold","color":"#000"},"encoding":{"text":{"field":"t"}}},
{"data":{"values":[{"x":1003,"y":895,"t":"Termite groups"},{"x":763,"y":895,"t":"log"},{"x":790,"y":899,"t":"10"},{"x":812,"y":895,"t":"(TPM+1)"}]},"mark":{"type":"text","align":"left","baseline":"middle","fontSize":18.5,"fontWeight":"bold","color":"#000"},"encoding":{"text":{"field":"t"}}},
{"data":{"values":[{"x":1027,"y":913,"t":"Lower termites (LT)"},{"x":1027,"y":936,"t":"Wood-feeding higher termites (WF)"},{"x":1027,"y":959,"t":"Soil-feeding termites (SF)"},{"x":1027,"y":982,"t":"Macrotermitinae (FC)"},{"x":739,"y":951,"t":"FDR-corrected Moran's I (p<0.05)"},{"x":739,"y":967,"t":"FDR-corrected Moran's I (p<0.01)"},{"x":739,"y":983,"t":"FDR-corrected Moran's I (p<0.001)"}]},"mark":{"type":"text","align":"left","baseline":"middle","fontSize":15.7,"color":"#111"},"encoding":{"text":{"field":"t"}}},
{"data":{"values":[{"x":681,"y":936,"t":"0"},{"x":796,"y":936,"t":"1.42"},{"x":969,"y":936,"t":"2.85"}]},"mark":{"type":"text","align":"center","baseline":"middle","fontSize":13,"color":"#111"},"encoding":{"text":{"field":"t"}}},
{"data":{"values":[{"x":728,"y":950},{"x":707,"y":966},{"x":728,"y":966},{"x":687,"y":982},{"x":707,"y":982},{"x":728,"y":982}]},"mark":{"type":"text","align":"center","baseline":"middle","fontSize":21,"font":"DejaVu Sans","color":"#111","text":"★"},"encoding":{}},
{"data":{"values":[{"x":26,"y":1013,"t":"Fig. 2"}]},"mark":{"type":"text","align":"left","baseline":"middle","fontSize":19,"font":"Noto Sans","fontWeight":"bold","color":"#222"},"encoding":{"text":{"field":"t"}}},
{"data":{"values":[{"x":87,"y":1013,"t":"Relative abundance of CAZymes found in gut metagenomes of termites. The heatmap shows the 50 most abundant CAZymes. The color"},{"x":26,"y":1039,"t":"scale represents the logarithm of transcripts per million (TPM). The tree represents a simplified time-calibrated phylogenetic tree reconstructed"},{"x":26,"y":1066,"t":"using host termite mitochondrial genomes. Genes showing significant phylogenetic autocorrelation with the host phylogeny at a 5% false"},{"x":26,"y":1092,"t":"discovery rate (FDR) are indicated with asterisks (*"},{"x":465,"y":1092,"t":"< 0.05; **"},{"x":558,"y":1092,"t":"< 0.01)"}]},"mark":{"type":"text","align":"left","baseline":"middle","fontSize":18.05,"font":"Noto Sans","color":"#333"},"encoding":{"text":{"field":"t"}}},
{"data":{"values":[{"x":451,"y":1092,"t":"p"},{"x":546,"y":1092,"t":"p"}]},"mark":{"type":"text","align":"left","baseline":"middle","fontSize":18.05,"font":"Noto Sans","fontStyle":"italic","color":"#333"},"encoding":{"text":{"field":"t"}}}
]}
]}
